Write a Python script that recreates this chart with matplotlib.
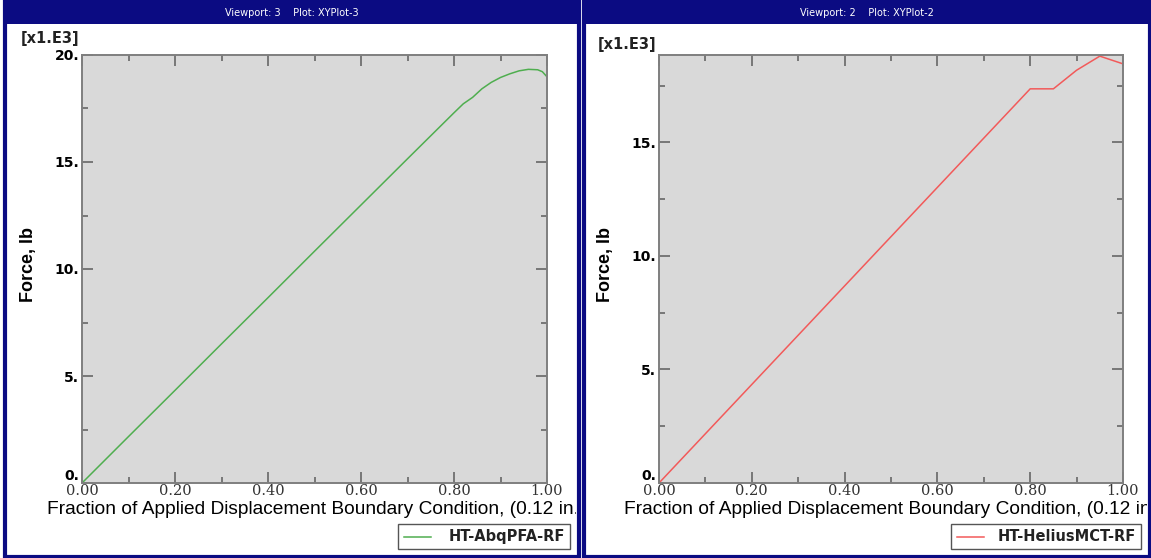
import matplotlib
matplotlib.use('Agg')
import matplotlib.pyplot as plt
from matplotlib.patches import Rectangle
from matplotlib.lines import Line2D
from matplotlib.ticker import MultipleLocator, FixedLocator, FixedFormatter

#------------------------------------------------------------------------------
# Data (force in kip, x = fraction of applied displacement)
#------------------------------------------------------------------------------
x_abq = [0.00, 0.10, 0.20, 0.30, 0.40, 0.50, 0.60, 0.70, 0.80, 0.82, 0.84,
         0.86, 0.88, 0.90, 0.92, 0.94, 0.96, 0.98, 0.99, 1.00]
y_abq = [0.00, 2.17, 4.33, 6.50, 8.66, 10.83, 12.99, 15.15, 17.30, 17.72, 18.02,
         18.42, 18.72, 18.95, 19.12, 19.26, 19.33, 19.31, 19.22, 18.98]

x_hel = [0.00, 0.80, 0.85, 0.90, 0.95, 1.00]
y_hel = [0.00, 17.36, 17.36, 18.18, 18.80, 18.46]

xticks = [0.0, 0.2, 0.4, 0.6, 0.8, 1.0]
xtick_labels = ['0.00', '0.20', '0.40', '0.60', '0.80', '1.00']
yticks = [0, 5, 10, 15, 20]
ytick_labels = ['0.', '5.', '10.', '15.', '20.']

xlabel = 'Fraction of Applied Displacement Boundary Condition, (0.12 in.)'
ylabel = 'Force, lb'

W, H = 1151, 558
navy = '#0b0b82'
fig = plt.figure(figsize=(W / 100, H / 100), dpi=100)
fig.patch.set_facecolor('white')


def fx(px):
    return px / W


def fy(py):
    return 1 - py / H


def rect(x0, y0, x1, y1, **kw):
    r = Rectangle((fx(x0), fy(y1)), fx(x1) - fx(x0), fy(y0) - fy(y1),
                  transform=fig.transFigure, **kw)
    fig.add_artist(r)
    return r


def panel(x0, x1, title, ax_l, ax_r, ymax, x_d, y_d, color, name, e3_y, leg_l):
    # window frame and title bar
    rect(x0, 2, x1, 557, facecolor='none', edgecolor=navy, lw=3)
    rect(x0, 2, x1, 24, facecolor=navy, edgecolor='none')
    fig.text(fx((x0 + x1) / 2), fy(13), title, color='white', fontsize=7,
             ha='center', va='center', family='DejaVu Sans')

    top, bot = 55, 483
    ax = fig.add_axes([fx(ax_l), fy(bot), fx(ax_r) - fx(ax_l), fy(top) - fy(bot)])
    ax.set_facecolor('#d9d9d9')
    ax.plot(x_d, y_d, color=color, lw=1.1)
    ax.set_xlim(0, 1)
    ax.set_ylim(0, ymax)
    for s in ax.spines.values():
        s.set_color('#7f7f7f')
        s.set_linewidth(1.4)
    ax.xaxis.set_major_locator(FixedLocator(xticks))
    ax.xaxis.set_major_formatter(FixedFormatter(xtick_labels))
    ax.xaxis.set_minor_locator(MultipleLocator(0.1))
    ax.yaxis.set_major_locator(FixedLocator(yticks))
    ax.yaxis.set_major_formatter(FixedFormatter(ytick_labels))
    ax.yaxis.set_minor_locator(MultipleLocator(2.5))
    ax.tick_params(which='both', direction='in', top=True, right=True,
                   color='#666666', width=1.2)
    ax.tick_params(which='major', length=8)
    ax.tick_params(which='minor', length=4)
    ax.tick_params(axis='x', pad=1)
    ax.tick_params(axis='y', pad=2)
    for lab in ax.get_xticklabels():
        lab.set_family('DejaVu Serif')
        lab.set_fontsize(10.5)
        lab.set_color('#333333')
    ylabs = ax.get_yticklabels()
    for lab in ylabs:
        lab.set_family('DejaVu Sans')
        lab.set_fontweight('bold')
        lab.set_fontsize(10)
    ylabs[0].set_verticalalignment('bottom')   # "0." sits above the corner
    ax.set_ylabel(ylabel, fontsize=13, fontweight='bold', family='Liberation Sans')
    ax.yaxis.set_label_coords(-45 / (ax_r - ax_l), 0.51)

    # x label clipped at the window edge
    t = fig.text(fx(ax_l - 35), fy(510), xlabel, fontsize=13.8,
                 family='Liberation Sans', ha='left', va='center')
    clip = Rectangle((fx(x0), 0), fx(x1 - 3) - fx(x0), 1,
                     transform=fig.transFigure)
    t.set_clip_path(clip)

    fig.text(fx(ax_l - 61), fy(e3_y), '[x1.E3]', fontsize=10.5,
             fontweight='bold', family='DejaVu Sans', va='center', color='#222222')

    # legend box
    rect(leg_l, 524, x1 - 9, 549, facecolor='white', edgecolor='#555555', lw=1.0)
    fig.add_artist(Line2D([fx(leg_l + 6), fx(leg_l + 33)], [fy(536.5), fy(536.5)],
                          transform=fig.transFigure, color=color, lw=1.1))
    fig.text(fx(x1 - 14), fy(536.5), name, fontsize=10.5, fontweight='bold',
             family='DejaVu Sans', ha='right', va='center', color='#222222')
    return ax


panel(5, 579, 'Viewport: 3    Plot: XYPlot-3', 82, 547, 20.0,
      x_abq, y_abq, '#4fae4f', 'HT-AbqPFA-RF', 38, 398)
panel(584, 1150, 'Viewport: 2    Plot: XYPlot-2', 659, 1123, 18.85,
      x_hel, y_hel, '#f25a5a', 'HT-HeliusMCT-RF', 44, 951)
# double frame line on the right window
rect(580, 2, 581, 557, facecolor=navy, edgecolor='none')

fig.savefig('out.png', dpi=100)
